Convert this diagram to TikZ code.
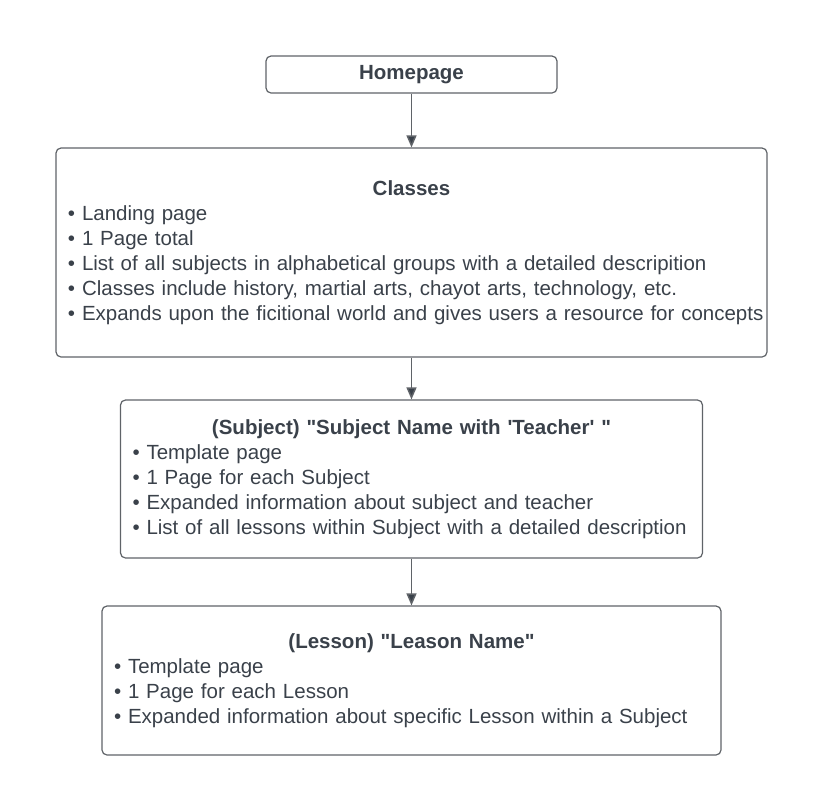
\documentclass[tikz,border=0pt]{standalone}
\usepackage{fontspec}
\setmainfont{Liberation Sans}[Ligatures = TeXOff]
\usepackage{tikz}
\usetikzlibrary{arrows.meta, positioning}

\definecolor{inkgray}{HTML}{3A414A}
\definecolor{linegray}{HTML}{5F6368}
\newcommand{\itembul}{\textbullet\ }

\begin{document}
\begin{tikzpicture} [x = 1pt, y = 1pt, on grid, inkgray, font = \fontsize{20.5}{25}\selectfont,
	page/.style = {draw = linegray, line width = 1.2pt, rounded corners = 5pt, inner xsep = 0pt, inner ysep = 0pt, align = left},
	link/.style = {draw = linegray, line width = 1.5pt, -{Triangle[length = 12pt, width = 10pt]}}]
			% Page frame: keeps the margins of the sketch
			\useasboundingbox (0,0) rectangle (823,-812);

			% Top Node : every page below hangs from this one
			\node (hp) [page, minimum width = 291pt, minimum height = 37pt, align = center] at (411.5,-74.5) {\bfseries Homepage};

			% Landing page
			\node (classes) [page, text width = 711pt, minimum height = 209pt, below = 178pt of hp]
			{{\centering\bfseries Classes\par}\leftskip = 12pt
			\itembul Landing page\par
			\itembul 1 Page total\par
			\itembul List of all subjects in alphabetical groups with a detailed descripition\par
			\itembul Classes include history, martial arts, chayot arts, technology, etc.\par
			\itembul Expands upon the ficitional world and gives users a resource for concepts\par};

			% Template pages
			\node (subject) [page, text width = 582pt, minimum height = 158pt, below = 226.5pt of classes]
			{{\centering\bfseries (Subject) "Subject Name with 'Teacher' "\par}\leftskip = 12pt
			\itembul Template page\par
			\itembul 1 Page for each Subject\par
			\itembul Expanded information about subject and teacher\par
			\itembul List of all lessons within Subject with a detailed description\par};

			\node (lesson) [page, text width = 619pt, minimum height = 149pt, below = 201.5pt of subject]
			{{\centering\bfseries (Lesson) "Leason Name"\par}\leftskip = 12pt
			\itembul Template page\par
			\itembul 1 Page for each Lesson\par
			\itembul Expanded information about specific Lesson within a Subject\par};

			% Draw Arrows/Connections
			\path [link]
			(hp) edge (classes)
			(classes) edge (subject)
			(subject) edge (lesson);
		\end{tikzpicture}
\end{document}
